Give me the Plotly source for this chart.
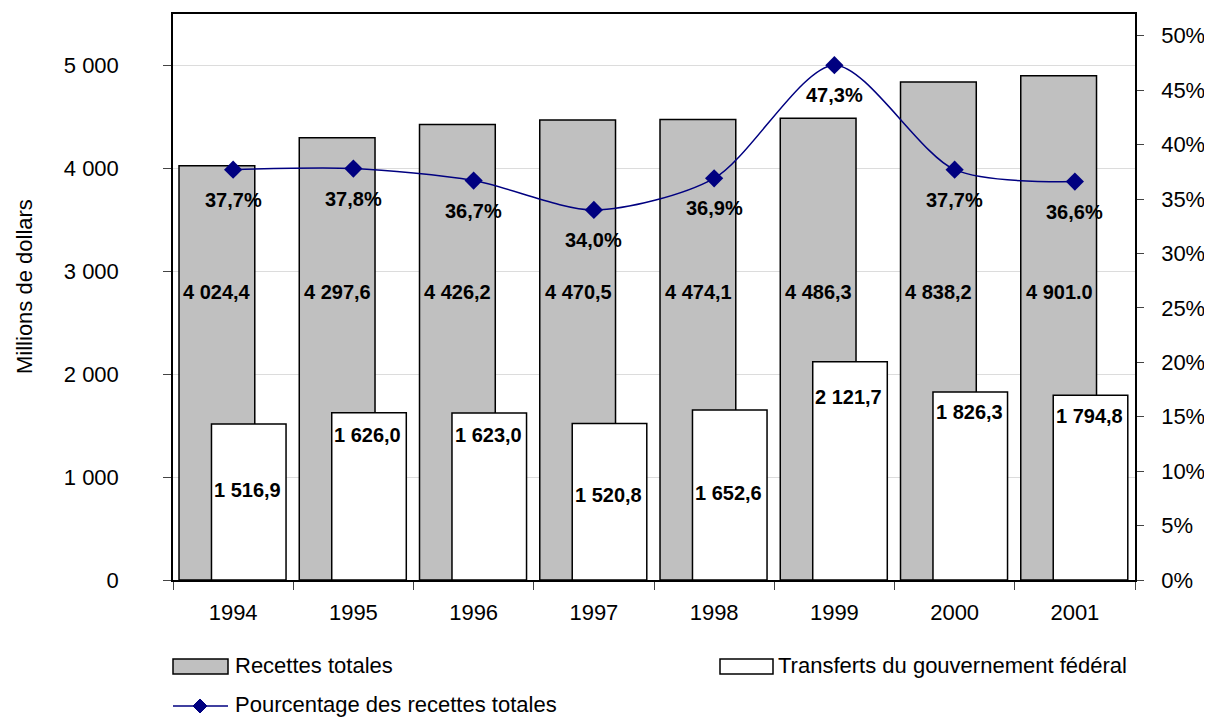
import plotly.graph_objects as go

annees = ["1994", "1995", "1996", "1997", "1998", "1999", "2000", "2001"]
recettes = [4024.4, 4297.6, 4426.2, 4470.5, 4474.1, 4486.3, 4838.2, 4901.0]
transferts = [1516.9, 1626.0, 1623.0, 1520.8, 1652.6, 2121.7, 1826.3, 1794.8]
pourcentage = [37.7, 37.8, 36.7, 34.0, 36.9, 47.3, 37.7, 36.6]

recettes_txt = ["4 024,4", "4 297,6", "4 426,2", "4 470,5", "4 474,1", "4 486,3", "4 838,2", "4 901.0"]
transferts_txt = ["1 516,9", "1 626,0", "1 623,0", "1 520,8", "1 652,6", "2 121,7", "1 826,3", "1 794,8"]

FONT = "Liberation Sans, Arial, sans-serif"
NAVY = "#000080"
GRIS = "#c0c0c0"

# zone de tracé voulue à l'écran (px) ; la page ajoute une marge de 8 px
L, R, T, B = 173, 1135, 14, 580
OFF = 8
W, H = 1212 - OFF, 719 - OFF


def px(x):
    return (x - L) / (R - L)


def py(y):
    return (B - y) / (B - T)


fig = go.Figure()

fig.add_trace(go.Bar(
    x=annees, y=recettes, name="Recettes totales",
    offset=-0.45, width=0.63,
    marker=dict(color=GRIS, line=dict(color="black", width=1.5)),
))
fig.add_trace(go.Bar(
    x=annees, y=transferts, name="Transferts du gouvernement fédéral",
    offset=-0.18, width=0.62,
    marker=dict(color="white", line=dict(color="black", width=1.5)),
))
fig.add_trace(go.Scatter(
    x=annees, y=[p / 100 for p in pourcentage], name="Pourcentage des recettes totales",
    yaxis="y2", mode="lines+markers",
    line=dict(color=NAVY, width=1.5, shape="spline", smoothing=0.8),
    marker=dict(symbol="diamond", size=14, color=NAVY),
))

lab = dict(size=20, color="black", family=FONT)

# étiquettes des barres grises
for i, t in enumerate(recettes_txt):
    fig.add_annotation(x=i - 0.13, y=2800, text="<b>%s</b>" % t, showarrow=False, font=lab)

# étiquettes des barres blanches (placées à la main comme dans l'original)
y_transf = [877, 1413, 1413, 828, 848, 1774, 1628, 1589]
for i, t in enumerate(transferts_txt):
    fig.add_annotation(x=i + 0.12, y=y_transf[i], text="<b>%s</b>" % t, showarrow=False, font=lab)

# étiquettes du pourcentage
for i, p in enumerate(pourcentage):
    fig.add_annotation(x=i, y=p / 100, yref="y2", yshift=-30,
                       text="<b>%s%%</b>" % ("%.1f" % p).replace(".", ","),
                       showarrow=False, font=lab)

# titre de l'axe
fig.add_annotation(xref="paper", yref="paper", x=px(24), y=py(287), textangle=-90,
                   xanchor="center", yanchor="middle",
                   text="Millions de dollars", showarrow=False,
                   font=dict(size=22, color="black", family=FONT))

# légende
leg = dict(size=22, color="black", family=FONT)
fig.add_shape(type="rect", xref="paper", yref="paper",
              x0=px(173), x1=px(228), y0=py(659), y1=py(674),
              fillcolor=GRIS, line=dict(color="black", width=1.5))
fig.add_annotation(xref="paper", yref="paper", x=px(233), y=py(665),
                   xanchor="left", yanchor="middle",
                   text="Recettes totales", showarrow=False, font=leg)
fig.add_shape(type="rect", xref="paper", yref="paper",
              x0=px(720), x1=px(773), y0=py(659), y1=py(674),
              fillcolor="white", line=dict(color="black", width=1.5))
fig.add_annotation(xref="paper", yref="paper", x=px(776), y=py(665),
                   xanchor="left", yanchor="middle",
                   text="Transferts du gouvernement fédéral", showarrow=False, font=leg)
fig.add_shape(type="line", xref="paper", yref="paper",
              x0=px(173), x1=px(228), y0=py(706), y1=py(706),
              line=dict(color=NAVY, width=1.5))
d = 7
fig.add_shape(type="path", xref="paper", yref="paper",
              path="M %f,%f L %f,%f L %f,%f L %f,%f Z" % (
                  px(200 - d), py(706), px(200), py(706 - d),
                  px(200 + d), py(706), px(200), py(706 + d)),
              fillcolor=NAVY, line=dict(color=NAVY, width=1))
fig.add_annotation(xref="paper", yref="paper", x=px(233), y=py(704),
                   xanchor="left", yanchor="middle",
                   text="Pourcentage des recettes totales", showarrow=False, font=leg)

fig.update_layout(
    width=W, height=H,
    margin=dict(l=L - OFF, r=W - (R - OFF), t=T - OFF, b=H - (B - OFF), autoexpand=False),
    paper_bgcolor="white", plot_bgcolor="white",
    barmode="overlay",
    separators=", ",
    font=dict(family=FONT, size=22, color="black"),
    showlegend=False,
    xaxis=dict(type="category", tickson="boundaries", ticks="outside", ticklen=8,
               showline=True, linecolor="black", linewidth=1.5, mirror=True,
               range=[-0.5, 7.5], tickfont=dict(size=22), ticklabelstandoff=12),
    yaxis=dict(range=[0, 5500], tickvals=[0, 1000, 2000, 3000, 4000, 5000],
               tickformat=",", ticks="outside", ticklen=8,
               showline=True, linecolor="black", linewidth=1.5,
               showgrid=True, gridcolor="#dcdcdc", gridwidth=1, zeroline=False,
               tickfont=dict(size=22), ticklabelstandoff=40),
    yaxis2=dict(overlaying="y", side="right", range=[0, 0.52],
                tickvals=[i * 0.05 for i in range(11)], tickformat=".0%",
                ticks="outside", ticklen=7, showline=True, linecolor="black",
                linewidth=1.5, showgrid=False, zeroline=False,
                tickfont=dict(size=22), ticklabelstandoff=13),
)

fig.write_html("out.html")
